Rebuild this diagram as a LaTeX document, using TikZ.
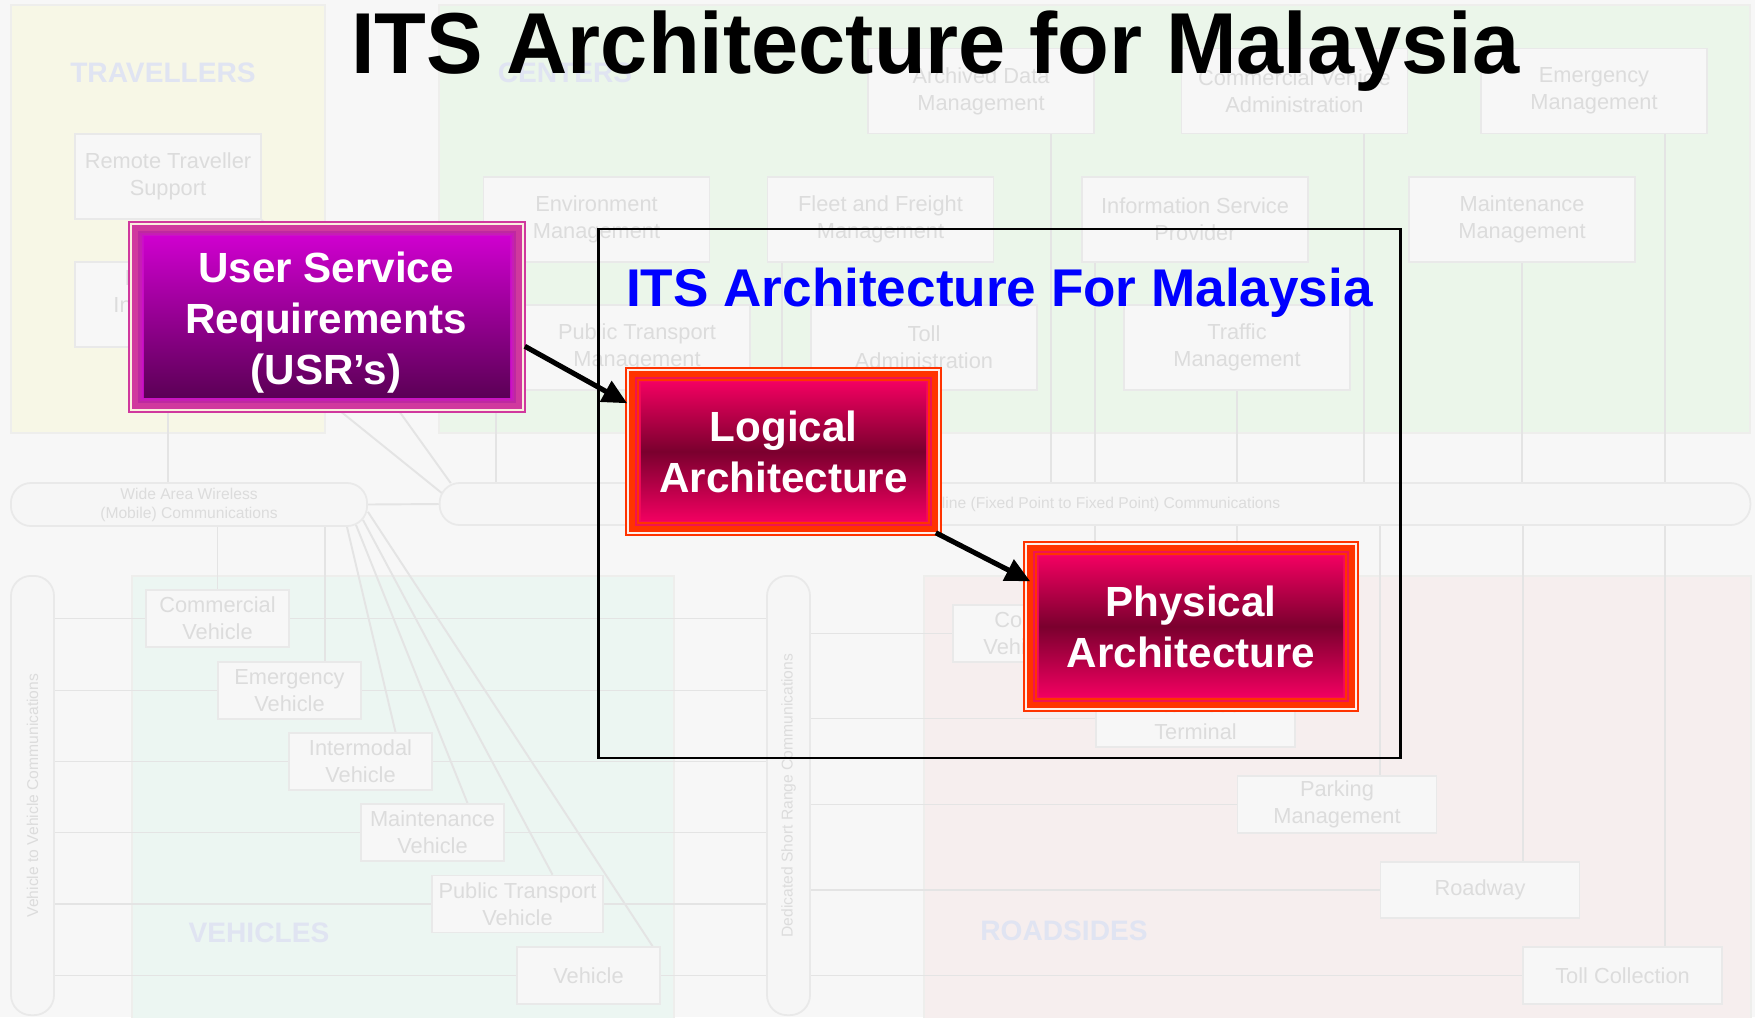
\documentclass[tikz,border=0pt]{standalone}
\usepackage{fontspec}
\setmainfont{Liberation Sans}
\usetikzlibrary{calc,arrows.meta}

\pgfdeclarelayer{regions}
\pgfdeclarelayer{wires}
\pgfsetlayers{regions,wires,main}

% faded architecture backdrop
\definecolor{bgc}{RGB}{247,247,247}
\definecolor{travfill}{RGB}{247,247,230}
\definecolor{centfill}{RGB}{235,246,234}
\definecolor{vehfill}{RGB}{236,246,242}
\definecolor{roadfill}{RGB}{246,238,238}
\definecolor{zoneedge}{RGB}{238,238,236}
\definecolor{boxedge}{RGB}{233,233,233}
\definecolor{barfill}{RGB}{246,246,246}
\definecolor{wire}{RGB}{228,228,228}
\definecolor{ftext}{RGB}{220,220,220}
\definecolor{zonetext}{RGB}{224,228,242}
% foreground boxes
\definecolor{itsblue}{RGB}{0,0,255}
\definecolor{usrA}{RGB}{208,56,158}
\definecolor{usrCream}{RGB}{250,238,222}
\definecolor{usrB}{RGB}{190,40,160}
\definecolor{usrC}{RGB}{198,30,180}
\definecolor{usrD}{RGB}{204,16,200}
\definecolor{usrTop}{RGB}{206,0,206}
\definecolor{usrBot}{RGB}{92,0,86}
\definecolor{archA}{RGB}{255,51,0}
\definecolor{archGap}{RGB}{255,238,232}
\definecolor{archB}{RGB}{240,20,80}
\definecolor{archD}{RGB}{245,10,90}
\definecolor{archPink}{RGB}{240,0,96}
\definecolor{archDark}{RGB}{122,0,46}

\newcommand\ttlfont{\fontsize{24.6}{29}\selectfont\bfseries}
\newcommand\subttlfont{\fontsize{15.1}{18}\selectfont\bfseries}
\newcommand\bigbold{\fontsize{12}{14.5}\selectfont\bfseries}
\newcommand\faintfont{\fontsize{6.2}{7.6}\selectfont}
\newcommand\barfont{\fontsize{4.45}{5.4}\selectfont}
\newcommand\zonefont{\fontsize{8}{9.6}\selectfont\bfseries}

% one band of a layered frame, inset by #2 units from the node border
\newcommand\bandfill[2]{\fill[#1] ($(path picture bounding box.north west)+(#2,#2)$) rectangle ($(path picture bounding box.south east)+(-#2,-#2)$);}

\begin{document}
\begin{tikzpicture}[x=0.01cm, y=-0.01cm,
  fbox/.style={draw=boxedge, fill=bgc, line width=0.5pt, inner sep=0pt, align=center, font=\faintfont, text=ftext},
  cbox/.style={fbox, minimum width=2.26cm, minimum height=0.85cm},
  vbox/.style={fbox, minimum width=1.43cm, minimum height=0.57cm},
  rbox/.style={fbox, minimum width=1.99cm, minimum height=0.565cm},
  bar/.style={draw=boxedge, fill=barfill, line width=0.5pt, rounded corners=0.2cm, inner sep=0pt, align=center, font=\barfont, text=ftext},
  bartext/.style={font=\barfont, text=ftext, inner sep=0pt},
  fline/.style={draw=wire, line width=0.55pt},
  zone/.style={font=\zonefont, text=zonetext, inner sep=0pt},
  boxlabel/.style={inner sep=0pt, align=center, text=white, font=\bigbold},
  usrbox/.style={minimum width=3.98cm, minimum height=1.92cm, inner sep=0pt,
    path picture={\bandfill{usrA}{0}\bandfill{usrCream}{2}\bandfill{usrA}{4}\bandfill{usrB}{10}\bandfill{usrC}{12}\bandfill{usrD}{14}
      \shade[top color=usrTop, bottom color=usrBot] ($(path picture bounding box.north west)+(16,16)$) rectangle ($(path picture bounding box.south east)+(-16,-16)$);}},
  archbox/.style={boxlabel,
    path picture={\bandfill{archA}{0}\bandfill{archGap}{2}\bandfill{archA}{4}\bandfill{archB}{10}\bandfill{archA}{12}\bandfill{archD}{14}
      \shade[top color=archPink, bottom color=archPink, middle color=archDark] ($(path picture bounding box.north west)+(16,16)$) rectangle ($(path picture bounding box.south east)+(-16,-16)$);}},
  flow/.style={line width=1.45pt, -{Triangle[length=7pt,width=6.5pt]}}
]
\useasboundingbox (0,0) rectangle (1755,1017);
\clip (0,0) rectangle (1755,1017);

% ---------- subsystem regions ----------
\begin{pgfonlayer}{regions}
  \fill[bgc] (0,0) rectangle (1755,1017);
  \filldraw[fill=travfill, draw=zoneedge, line width=0.5pt] (11,5) rectangle (325,433);
  \filldraw[fill=centfill, draw=zoneedge, line width=0.5pt] (439,5) rectangle (1750,433);
  \filldraw[fill=vehfill, draw=zoneedge, line width=0.5pt] (132,576) rectangle (674,1030);
  \filldraw[fill=roadfill, draw=zoneedge, line width=0.5pt] (924,576) rectangle (1751,1030);
\end{pgfonlayer}

\node[zone] (travlbl) at (163,73) {TRAVELLERS};
\node[zone] (centlbl) at (565,73) {CENTERS};
\node[zone] (vehlbl) at (259,933) {VEHICLES};
\node[zone] (roadlbl) at (1064,931) {ROADSIDES};

% ---------- travellers ----------
\node[cbox, minimum width=1.86cm] (rts) at (168,176.5) {Remote Traveller\\Support};
\node[cbox, minimum width=1.86cm] (pia) at (168,304.5) {Personal\\Information\\Access};

% ---------- centers ----------
\node[cbox] (adm) at (981,91) {Archived Data\\Management};
\node[cbox] (cva) at (1294.5,91) {Commercial Vehicle\\Administration};
\node[cbox] (emm) at (1594,91) {Emergency\\Management};
\node[cbox] (env) at (596.5,219.5) {Environment\\Management};
\node[cbox] (ffm) at (880.5,219.5) {Fleet and Freight\\Management};
\node[cbox] (isp) at (1195,219.5) {Information Service\\Provider};
\node[cbox] (mtm) at (1522,219.5) {Maintenance\\Management};
\node[cbox] (ptm) at (637,347.5) {Public Transport\\Management};
\node[cbox] (tla) at (924,347.5) {Toll\\Administration};
\node[cbox] (tfm) at (1237,347.5) {Traffic\\Management};

% ---------- communication buses ----------
\node[bar, minimum width=3.56cm, minimum height=0.43cm] (wab) at (189,504.5) {Wide Area Wireless\\(Mobile) Communications};
\node[bar, minimum width=13.10cm, minimum height=0.42cm] (fpb) at (1095,504) {Wireline (Fixed Point to Fixed Point) Communications};
\node[bar, minimum width=0.43cm, minimum height=4.39cm] (vvb) at (32.5,795.5) {};
\node[bar, minimum width=0.43cm, minimum height=4.39cm] (dsb) at (788.5,795.5) {};
\node[bartext, rotate=90] (vvt) at (vvb.center) {Vehicle to Vehicle Communications};
\node[bartext, rotate=90] (dst) at (dsb.center) {Dedicated Short Range Communications};

% ---------- vehicles ----------
\node[vbox] (cv) at (217.5,618.5) {Commercial\\Vehicle};
\node[vbox] (ev) at (289.5,690.5) {Emergency\\Vehicle};
\node[vbox] (iv) at (360.5,761.5) {Intermodal\\Vehicle};
\node[vbox] (mv) at (432.5,832.5) {Maintenance\\Vehicle};
\node[vbox, minimum width=1.71cm] (pv) at (517.5,904) {Public Transport\\Vehicle};
\node[vbox] (vh) at (588.5,975.5) {Vehicle};

% ---------- roadsides ----------
\node[rbox] (cvc) at (1052.5,633.5) {Commercial\\Vehicle Check};
\node[rbox] (imt) at (1195.5,718.5) {Intermodal\\Terminal};
\node[rbox] (pkm) at (1337,804.5) {Parking\\Management};
\node[rbox] (rdw) at (1480,890) {Roadway};
\node[rbox] (tlc) at (1622.5,975.5) {Toll Collection};

% ---------- links between subsystems and buses ----------
\begin{pgfonlayer}{wires}
  \draw[fline] (pia.south) -- (pia.south |- wab.north);
  \draw[fline] (rts.south east) -- ($(fpb.north west)+(12,1)$);
  \draw[fline] (pia.south east) -- ($(fpb.west)+(3,-11)$);
  \draw[fline] (wab.east) -- (fpb.west);
  % centers to wireline bus
  \draw[fline] (env.south -| 496,0) -- (fpb.north -| 496,0);
  \draw[fline] (ffm.south -| 782,0) -- (fpb.north -| 782,0);
  \draw[fline] (ptm.south) -- (ptm.south |- fpb.north);
  \draw[fline] (tla.south) -- (tla.south |- fpb.north);
  \draw[fline] (adm.south -| 1051,0) -- (fpb.north -| 1051,0);
  \draw[fline] (isp.south -| 1095,0) -- (fpb.north -| 1095,0);
  \draw[fline] (tfm.south) -- (tfm.south |- fpb.north);
  \draw[fline] (cva.south -| 1364,0) -- (fpb.north -| 1364,0);
  \draw[fline] (mtm.south) -- (mtm.south |- fpb.north);
  \draw[fline] (emm.south -| 1665,0) -- (fpb.north -| 1665,0);
  % wireline bus to roadsides
  \draw[fline] (fpb.south -| 1095,0) -- (cvc.north -| 1095,0);
  \draw[fline] (fpb.south -| 1237,0) -- (imt.north -| 1237,0);
  \draw[fline] (fpb.south -| 1380,0) -- (pkm.north -| 1380,0);
  \draw[fline] (fpb.south -| 1523,0) -- (rdw.north -| 1523,0);
  \draw[fline] (fpb.south -| 1665,0) -- (tlc.north -| 1665,0);
  % wireless bus to vehicles
  \draw[fline] (cv.north |- wab.south) -- (cv.north);
  \draw[fline] (wab.south -| 325,0) -- (ev.north -| 325,0);
  \draw[fline] ($(wab.south east)+(-21,0)$) -- ($(iv.north)+(35,0)$);
  \draw[fline] ($(wab.south east)+(-12,-2)$) -- ($(mv.north)+(35,0)$);
  \draw[fline] ($(wab.south east)+(-5,-7)$) -- ($(pv.north)+(35,0)$);
  \draw[fline] ($(wab.south east)+(0,-15)$) -- ($(vh.north)+(64,0)$);
  % vehicle-to-vehicle and short range links
  \foreach \n in {cv,ev,iv,mv,pv,vh}
    \draw[fline] (vvb.east |- \n.center) -- (dsb.west |- \n.center);
  \foreach \n in {cvc,imt,pkm,rdw,tlc}
    \draw[fline] (dsb.east |- \n.center) -- (\n.west);
\end{pgfonlayer}

% ---------- foreground ----------
\node[draw=black, line width=0.75pt, minimum width=8.01cm, minimum height=5.29cm, inner sep=0pt] (itsbox) at (999.5,493.5) {};
\node[font=\subttlfont, text=itsblue, anchor=base, inner sep=0pt] (subttl) at (999.5,306) {ITS Architecture For Malaysia};
\node[font=\ttlfont, anchor=base, inner sep=0pt] (ttl) at (935.5,73) {\scalebox{0.98}[1]{ITS Architecture for Malaysia}};

\node[usrbox] (usr) at (327,317) {};
\node[boxlabel] (usrlbl) at ($(usr.center)+(-1,6)$) {User Service\\Requirements\\(USR’s)};
\node[archbox, minimum width=3.17cm, minimum height=1.69cm] (lgc) at (783.5,451.5) {Logical\\Architecture};
\node[archbox, minimum width=3.36cm, minimum height=1.71cm] (phy) at (1191,626.5) {Physical\\Architecture};

\draw[flow] ($(usr.north east)+(-2,126)$) -- ($(lgc.north west)+(3,37)$);
\draw[flow] ($(lgc.south east)+(-7,-4)$) -- ($(phy.north west)+(8,41)$);
\end{tikzpicture}
\end{document}
